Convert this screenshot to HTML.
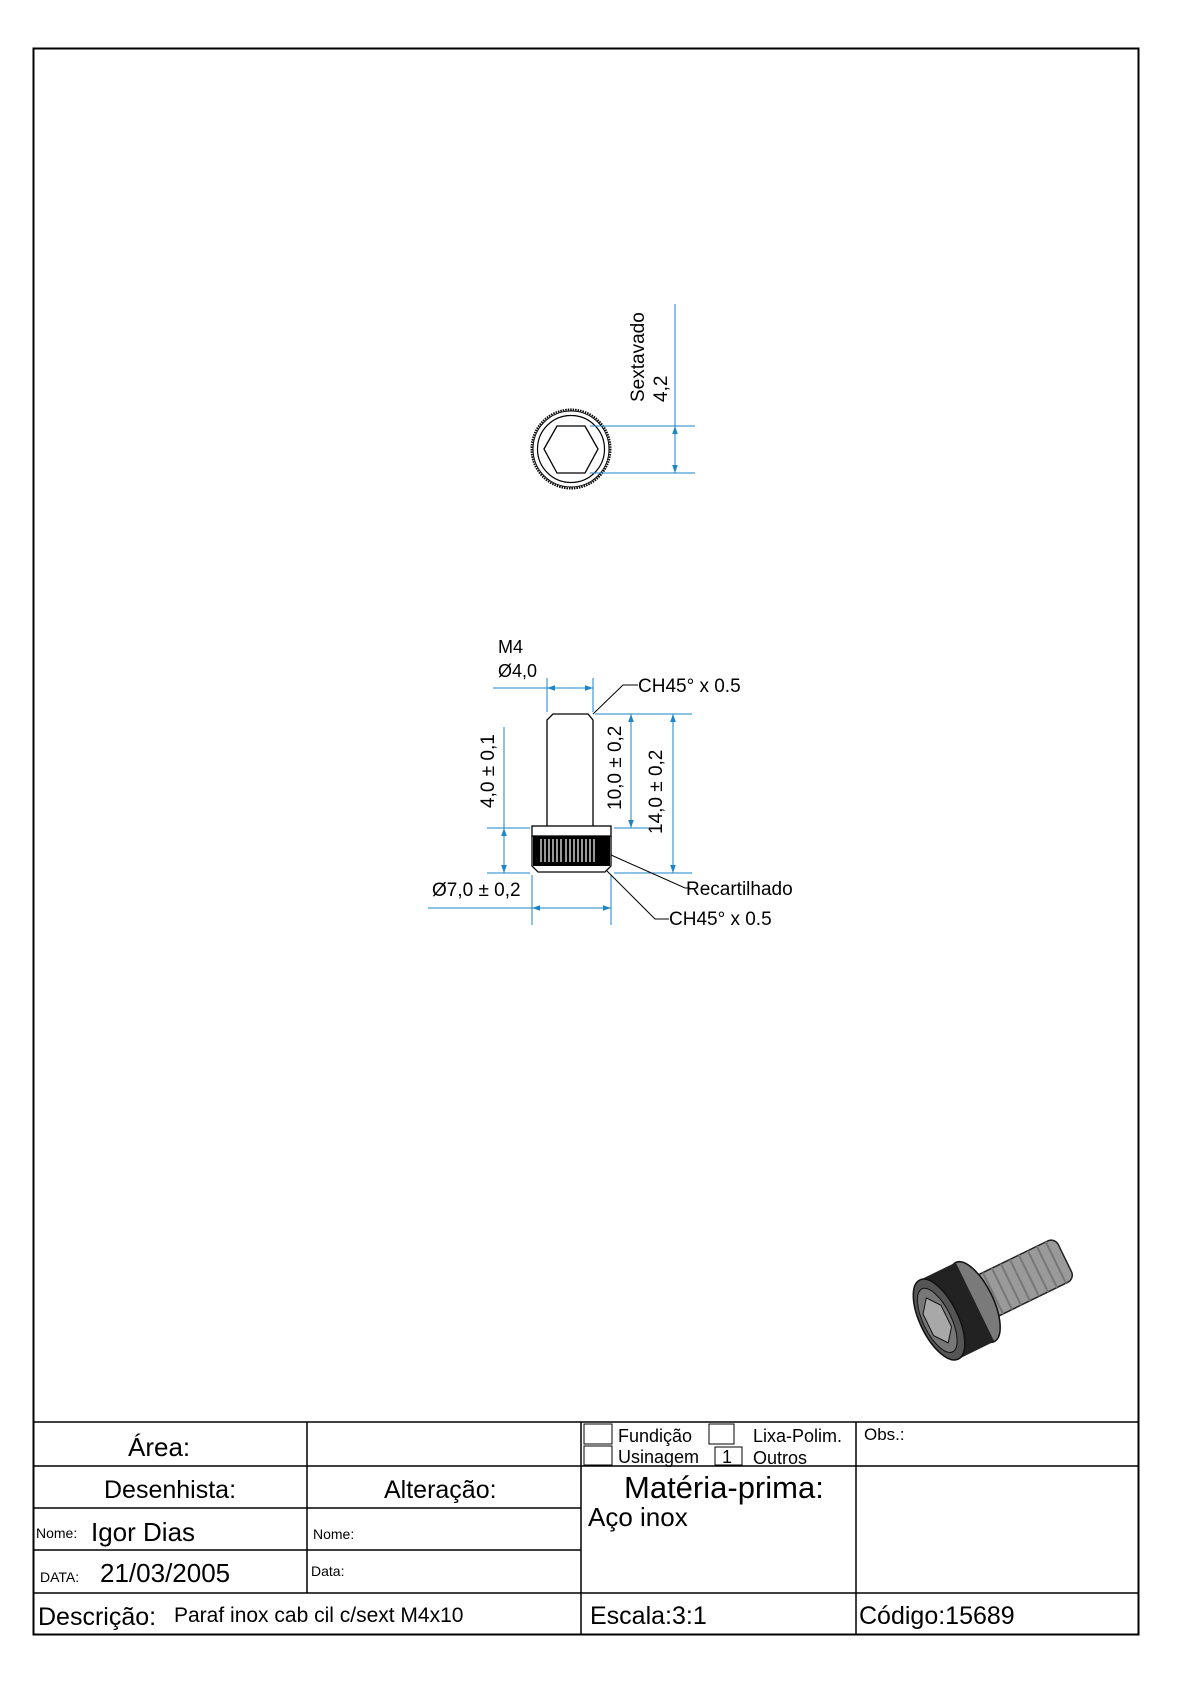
<!DOCTYPE html>
<html><head><meta charset="utf-8"><style>
html,body{margin:0;padding:0;background:#fff;}
svg{display:block;}
text{font-family:"Liberation Sans",sans-serif;fill:#000;}
</style></head><body>
<svg width="1190" height="1684" viewBox="0 0 1190 1684" xmlns="http://www.w3.org/2000/svg">
<defs>
<marker id="a" viewBox="0 0 10 10" refX="10" refY="5" markerWidth="8" markerHeight="8" orient="auto-start-reverse" markerUnits="userSpaceOnUse"><path d="M0,1.5 L10,5 L0,8.5z" fill="#1a86c8"/></marker>
</defs>
<rect x="33.5" y="48.5" width="1105" height="1586" fill="none" stroke="#000" stroke-width="2"/>

<!-- top view -->
<g stroke="#000" fill="none">
<circle cx="571" cy="449" r="39.5" stroke-width="2" stroke-dasharray="1.5 1"/>
<circle cx="571" cy="449" r="38" stroke-width="1"/>
<circle cx="571" cy="449" r="33.5" stroke-width="1.2"/>
<polygon points="544,449 557,426 585,426 598,449 585,473 557,473" stroke-width="1.3"/>
</g>
<g stroke="#1a86c8" stroke-width="1" fill="none">
<line x1="590" y1="426" x2="695" y2="426"/>
<line x1="590" y1="473" x2="695" y2="473"/>
<line x1="675" y1="304" x2="675" y2="426"/>
<line x1="675" y1="426" x2="675" y2="473" marker-start="url(#a)" marker-end="url(#a)"/>
</g>
<text transform="translate(644,402) rotate(-90)" font-size="19">Sextavado</text>
<text transform="translate(667,402) rotate(-90)" font-size="19">4,2</text>

<!-- side view -->
<g stroke="#000" fill="none" stroke-width="1.3">
<path d="M547,828 L547,720 L553,714 L588,714 L593,720 L593,828"/>
<rect x="532" y="826" width="79" height="10" fill="#fff"/>
<path d="M532,836 L532,866 L538,872 L605,872 L611,866 L611,836"/>
</g>
<rect x="533" y="836" width="77" height="30" fill="#000"/>
<g stroke="#fff" stroke-width="1.2">
<line x1="541" y1="839" x2="541" y2="862"/><line x1="545" y1="839" x2="545" y2="862"/><line x1="549" y1="839" x2="549" y2="862"/><line x1="553" y1="839" x2="553" y2="862"/><line x1="557" y1="839" x2="557" y2="862"/><line x1="561" y1="839" x2="561" y2="862"/><line x1="566" y1="839" x2="566" y2="862"/><line x1="570" y1="839" x2="570" y2="862"/><line x1="574" y1="839" x2="574" y2="862"/><line x1="578" y1="839" x2="578" y2="862"/><line x1="582" y1="839" x2="582" y2="862"/><line x1="586" y1="839" x2="586" y2="862"/><line x1="590" y1="839" x2="590" y2="862"/><line x1="594" y1="839" x2="594" y2="862"/>
</g>
<g stroke="#1a86c8" stroke-width="1" fill="none">
<line x1="493" y1="688" x2="547" y2="688"/>
<line x1="547" y1="688" x2="593" y2="688" marker-start="url(#a)" marker-end="url(#a)"/>
<line x1="547" y1="678" x2="547" y2="712"/><line x1="593" y1="678" x2="593" y2="712"/>
<line x1="595" y1="714" x2="692" y2="714"/>
<line x1="614" y1="828" x2="648" y2="828"/>
<line x1="614" y1="873" x2="692" y2="873"/>
<line x1="631" y1="714" x2="631" y2="828" marker-start="url(#a)" marker-end="url(#a)"/>
<line x1="673" y1="714" x2="673" y2="873" marker-start="url(#a)" marker-end="url(#a)"/>
<line x1="487" y1="828" x2="530" y2="828"/>
<line x1="487" y1="873" x2="530" y2="873"/>
<line x1="504" y1="727" x2="504" y2="828"/>
<line x1="504" y1="828" x2="504" y2="873" marker-start="url(#a)" marker-end="url(#a)"/>
<line x1="532" y1="875" x2="532" y2="925"/><line x1="611" y1="875" x2="611" y2="925"/>
<line x1="428" y1="908" x2="532" y2="908"/>
<line x1="532" y1="908" x2="611" y2="908" marker-start="url(#a)" marker-end="url(#a)"/>
</g>
<g stroke="#000" stroke-width="1" fill="none">
<polyline points="593,714 623,685 638,685"/>
<polyline points="611,855 685,888 690,888"/>
<polyline points="607,871 655,919 669,919"/>
</g>
<text x="498" y="653" font-size="18">M4</text>
<text x="498" y="677" font-size="18">Ø4,0</text>
<text x="638" y="692" font-size="19">CH45° x 0.5</text>
<text x="686" y="895" font-size="19">Recartilhado</text>
<text x="669" y="925" font-size="19">CH45° x 0.5</text>
<text x="432" y="896" font-size="19">Ø7,0 ± 0,2</text>
<text transform="translate(494,808) rotate(-90)" font-size="19">4,0 ± 0,1</text>
<text transform="translate(621,810) rotate(-90)" font-size="19">10,0 ± 0,2</text>
<text transform="translate(662,834) rotate(-90)" font-size="19">14,0 ± 0,2</text>

<!-- 3D bolt -->
<g transform="translate(975,1302) rotate(-26)">
<rect x="0" y="-23" width="100" height="46" rx="8" fill="#9a9a9a" stroke="#222" stroke-width="1.5"/>
<g stroke="#777" stroke-width="2">
<line x1="10" y1="-23" x2="10" y2="23"/><line x1="20" y1="-23" x2="20" y2="23"/><line x1="30" y1="-23" x2="30" y2="23"/><line x1="40" y1="-23" x2="40" y2="23"/><line x1="50" y1="-23" x2="50" y2="23"/><line x1="60" y1="-23" x2="60" y2="23"/><line x1="70" y1="-23" x2="70" y2="23"/><line x1="80" y1="-23" x2="80" y2="23"/><line x1="90" y1="-23" x2="90" y2="23"/>
</g>
<ellipse cx="0" cy="0" rx="18" ry="44" fill="#7a7a7a" stroke="#111" stroke-width="1.5"/>
<rect x="-40" y="-44" width="40" height="88" fill="#222"/>
<ellipse cx="-40" cy="0" rx="19" ry="44" fill="#555" stroke="#111" stroke-width="1.5"/>
<ellipse cx="-42" cy="0" rx="14" ry="35" fill="#777" stroke="#111"/>
<polygon points="-42,-25 -32,-12 -32,12 -42,25 -52,12 -52,-12" fill="#a8a8a8" stroke="#111"/>
</g>

<!-- title block -->
<g stroke="#000" stroke-width="1.5" fill="none">
<line x1="33" y1="1422" x2="1139" y2="1422"/>
<line x1="33" y1="1466" x2="1139" y2="1466"/>
<line x1="33" y1="1508" x2="581" y2="1508"/>
<line x1="33" y1="1550" x2="581" y2="1550"/>
<line x1="33" y1="1593" x2="1139" y2="1593"/>
<line x1="307" y1="1422" x2="307" y2="1593"/>
<line x1="581" y1="1422" x2="581" y2="1635"/>
<line x1="856" y1="1422" x2="856" y2="1635"/>
<rect x="584" y="1424" width="28" height="20" stroke-width="1"/>
<rect x="584" y="1446" width="28" height="19" stroke-width="1"/>
<rect x="709" y="1424" width="25" height="20" stroke-width="1"/>
<rect x="715" y="1447" width="27" height="18" stroke-width="1"/>
</g>
<text x="128" y="1456" font-size="26">Área:</text>
<text x="618" y="1442" font-size="18">Fundição</text>
<text x="753" y="1442" font-size="18">Lixa-Polim.</text>
<text x="618" y="1463" font-size="18">Usinagem</text>
<text x="722" y="1463" font-size="18">1</text>
<text x="753" y="1464" font-size="18">Outros</text>
<text x="864" y="1440" font-size="17">Obs.:</text>
<text x="104" y="1498" font-size="25">Desenhista:</text>
<text x="384" y="1498" font-size="25">Alteração:</text>
<text x="624" y="1498" font-size="31">Matéria-prima:</text>
<text x="588" y="1526" font-size="26">Aço inox</text>
<text x="36" y="1538" font-size="14">Nome:</text>
<text x="91" y="1541" font-size="26">Igor Dias</text>
<text x="313" y="1539" font-size="14">Nome:</text>
<text x="40" y="1582" font-size="14">DATA:</text>
<text x="100" y="1582" font-size="26">21/03/2005</text>
<text x="311" y="1576" font-size="14">Data:</text>
<text x="38" y="1625" font-size="25">Descrição:</text>
<text x="174" y="1622" font-size="21">Paraf inox cab cil c/sext M4x10</text>
<text x="590" y="1624" font-size="25">Escala:3:1</text>
<text x="859" y="1624" font-size="25">Código:15689</text>
</svg>
</body></html>
